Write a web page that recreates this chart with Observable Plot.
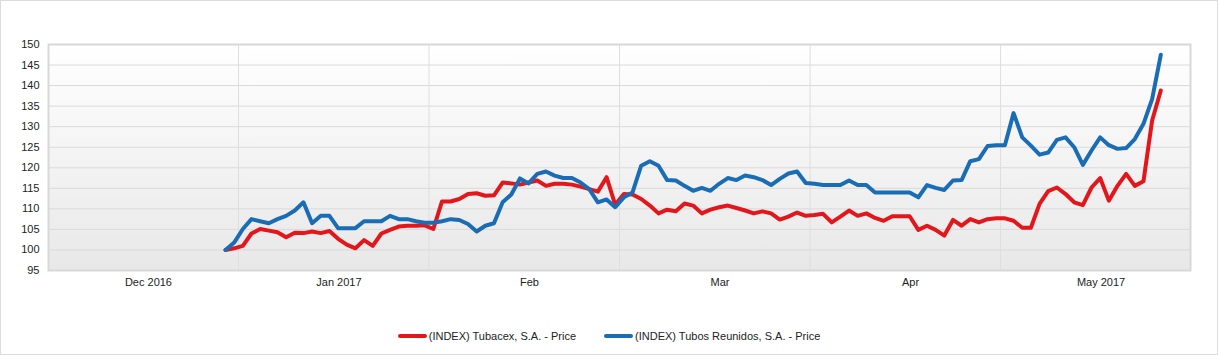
<!DOCTYPE html>
<html>
<head>
<meta charset="utf-8">
<script src="https://cdn.jsdelivr.net/npm/d3@7"></script>
<script src="https://cdn.jsdelivr.net/npm/@observablehq/plot@0.6"></script>
<style>
  html, body { margin: 0; padding: 0; background: #fff; }
  #wrap { position: relative; width: 1218px; height: 355px; overflow: hidden; font-family: "Liberation Sans", Arial, sans-serif; }
  #chart { position: absolute; left: 0; top: 0; }
  #border { position: absolute; left: 0; top: 0; width: 1218px; height: 355px; box-sizing: border-box; border: 1px solid #dcdcdc; pointer-events: none; }
  #legend { position: absolute; left: 0; top: 328px; width: 1218px; display: flex; justify-content: center; gap: 28px; font-size: 11px; color: #222; line-height: 16px; }
  .item { display: flex; align-items: center; }
  .sw { display: inline-block; width: 29px; height: 4px; border-radius: 2px; margin-right: 2px; }
</style>
</head>
<body>
<svg width="0" height="0" style="position:absolute">
  <defs>
    <linearGradient id="bg" x1="0" y1="0" x2="0" y2="1">
      <stop offset="0" stop-color="#ffffff"/>
      <stop offset="1" stop-color="#e8e8e8"/>
    </linearGradient>
  </defs>
</svg>
<div id="wrap">
  <div id="chart"></div>
  <div id="legend"></div>
  <div id="border"></div>
</div>
<script>
// ---- data (trading-day index from first observation) ----
const seriesNames = ["(INDEX) Tubacex, S.A. - Price", "(INDEX) Tubos Reunidos, S.A. - Price"];
const seriesColors = ["#e3171b", "#1a6db4"];

const tubacex = [100, 100.4, 101.0, 104.0, 105.1, 104.7, 104.3, 103.1, 104.2, 104.1,
  104.5, 104.1, 104.6, 102.7, 101.3, 100.4, 102.4, 101.0, 104.0, 104.9,
  105.7, 105.9, 105.9, 106.0, 105.1, 111.8, 111.8, 112.4, 113.6, 113.8,
  113.2, 113.3, 116.4, 116.2, 115.9, 116.4, 116.9, 115.6, 116.1, 116.1,
  115.9, 115.4, 114.8, 114.2, 117.7, 111.0, 113.6, 113.5, 112.4, 110.8,
  108.9, 109.8, 109.4, 111.3, 110.8, 108.9, 109.8, 110.4, 110.8, 110.2,
  109.6, 108.9, 109.4, 108.9, 107.4, 108.1, 109.1, 108.3, 108.5, 108.8,
  106.7, 108.1, 109.6, 108.3, 108.9, 107.8, 107.1, 108.2, 108.2, 108.2,
  104.9, 105.9, 104.9, 103.5, 107.3, 105.9, 107.5, 106.7, 107.5, 107.7,
  107.7, 107.1, 105.4, 105.4, 111.2, 114.3, 115.2, 113.6, 111.6, 110.9,
  115.2, 117.5, 112.0, 115.6, 118.5, 115.6, 116.7, 131.5, 138.8];

const tubosReunidos = [100, 101.8, 105.1, 107.5, 107.0, 106.5, 107.5, 108.3, 109.6, 111.6,
  106.5, 108.3, 108.3, 105.3, 105.3, 105.3, 107.0, 107.0, 107.0, 108.3,
  107.5, 107.5, 107.0, 106.6, 106.6, 107.0, 107.5, 107.3, 106.3, 104.5,
  105.9, 106.5, 111.6, 113.5, 117.4, 116.2, 118.5, 119.1, 118.1, 117.5,
  117.5, 116.4, 114.8, 111.6, 112.3, 110.4, 112.8, 114.0, 120.5, 121.6,
  120.5, 117.0, 116.9, 115.6, 114.4, 115.1, 114.4, 116.1, 117.5, 117.0,
  118.1, 117.7, 117.0, 115.8, 117.3, 118.6, 119.1, 116.3, 116.1, 115.8,
  115.8, 115.8, 116.9, 115.8, 115.8, 114.0, 114.0, 114.0, 114.0, 114.0,
  112.8, 115.8, 115.1, 114.6, 116.9, 117.0, 121.6, 122.1, 125.3, 125.5,
  125.5, 133.3, 127.4, 125.4, 123.2, 123.7, 126.8, 127.4, 125.0, 120.7,
  124.2, 127.4, 125.5, 124.6, 124.8, 127.0, 130.7, 136.7, 147.5];

const monthLabels = ["Dec 2016", "Jan 2017", "Feb", "Mar", "Apr", "May 2017"];
const yTicks = [95, 100, 105, 110, 115, 120, 125, 130, 135, 140, 145, 150];

// ---- layout ----
const xDomain = [-20.44, 111.43];
const gridStart = 1.5, gridStep = 22;            // vertical grid every 22 trading days
const gridX = d3.range(0, 5).map(k => gridStart + k * gridStep);
const labelX = monthLabels.map((_, k) => gridStart - gridStep + k * gridStep + 11.6);

const rows = [];
[tubacex, tubosReunidos].forEach((arr, s) => arr.forEach((v, i) => rows.push({i, v, s: seriesNames[s]})));

const chart = Plot.plot({
  width: 1218,
  height: 300,
  marginLeft: 48,
  marginRight: 28,
  marginTop: 44,
  marginBottom: 30,
  style: {fontFamily: "'Liberation Sans', Arial, sans-serif", fontSize: "11px", color: "#222", background: "transparent"},
  x: {domain: xDomain},
  y: {domain: [95, 150]},
  color: {domain: seriesNames, range: seriesColors},
  marks: [
    Plot.frame({fill: "url(#bg)", stroke: null}),
    Plot.ruleY(yTicks, {stroke: "#dadada", strokeWidth: 1}),
    Plot.ruleX(gridX, {stroke: "#dedede", strokeWidth: 1}),
    Plot.frame({stroke: "#d8d8d8", strokeWidth: 2}),
    Plot.axisY({ticks: yTicks, tickSize: 0, tickPadding: 9, fontSize: 11, fill: "#222", label: null}),
    Plot.axisX({ticks: labelX, tickFormat: (d, k) => monthLabels[k], tickSize: 0, tickPadding: 8, fontSize: 11, fill: "#222", label: null}),
    Plot.line(rows, {x: "i", y: "v", z: "s", stroke: "s", strokeWidth: 4, strokeLinejoin: "round", strokeLinecap: "round"})
  ]
});
document.getElementById("chart").appendChild(chart);

// ---- legend ----
const legend = d3.select("#legend");
seriesNames.forEach((n, k) => {
  const it = legend.append("div").attr("class", "item");
  it.append("span").attr("class", "sw").style("background", seriesColors[k]);
  it.append("span").text(n);
});
</script>
</body>
</html>
